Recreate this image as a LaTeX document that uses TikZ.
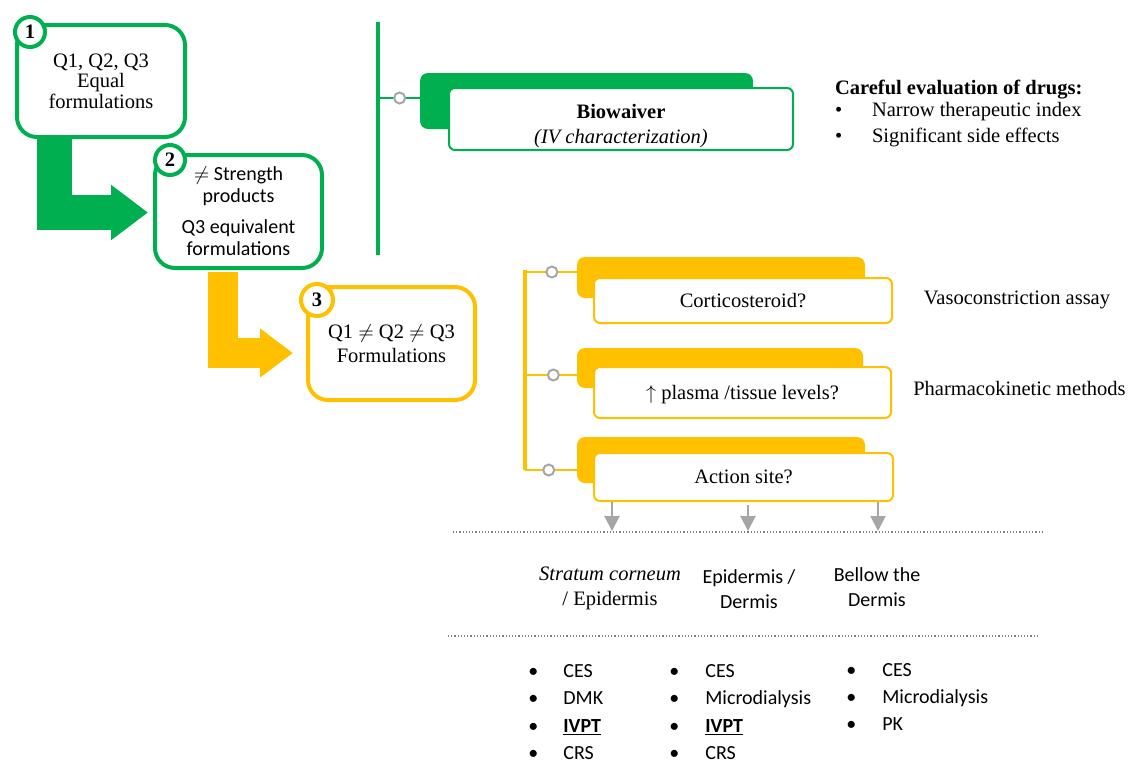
\documentclass[tikz,border=0pt]{standalone}
\usepackage{fontspec}
\setmainfont{Liberation Serif}
\newfontfamily\calibri{Carlito}
\usetikzlibrary{arrows.meta,calc}
\definecolor{stepgreen}{RGB}{0,176,80}
\definecolor{stepyellow}{RGB}{255,192,0}
\definecolor{linkgray}{RGB}{166,166,166}
\tikzset{
  stepbox/.style={draw, line width=2pt, rounded corners=10pt, fill=white, align=center, inner sep=0pt},
  stepnum/.style={circle, draw, line width=2pt, fill=white, minimum size=15pt, inner sep=0pt, font=\fontsize{10.25}{12}\selectfont\bfseries},
  tab/.style={rounded corners=4pt, inner sep=0pt},
  card/.style={draw, line width=1pt, rounded corners=3pt, fill=white, inner sep=0pt, align=center, text depth=0pt},
  knob/.style={circle, draw=linkgray, line width=1pt, fill=white, minimum size=5.5pt, inner sep=0pt},
  link/.style={line width=0.75pt},
  sitearrow/.style={draw=linkgray, line width=1pt, -{Triangle[length=7.5pt,width=7.5pt,fill=linkgray]}},
  dotline/.style={draw=gray, line width=0.6pt, densely dotted},
  sans/.style={font=\calibri\fontsize{10}{11}\selectfont},
  methods/.style={anchor=west, align=left, inner sep=0pt, font=\calibri\fontsize{10}{13.65}\selectfont}
}
\begin{document}
\begin{tikzpicture}[x=0.5pt,y=-0.5pt,font=\fontsize{10.25}{12.5}\selectfont]
\useasboundingbox (0,0) rectangle (1131,762);

% the three steps
\node[stepbox, draw=stepgreen, minimum width=84pt, minimum height=56pt,
  font=\fontsize{10.25}{10.25}\selectfont] (equal) at (101,81) {Q1, Q2, Q3\\Equal\\formulations};
\node[stepbox, draw=stepgreen, minimum width=83.5pt, minimum height=56.5pt,
  font=\calibri\fontsize{10}{11}\selectfont] (strength) at (238.5,211.5)
  {$\neq$ Strength\\products\\[4.5pt]Q3 equivalent\\formulations};
\node[stepbox, draw=stepyellow, minimum width=83.5pt, minimum height=56.5pt,
  font=\fontsize{10.25}{12}\selectfont] (diff) at (391.5,343.5) {Q1 $\neq$ Q2 $\neq$ Q3\\Formulations};

\node[stepnum, draw=stepgreen] (n1) at (30,32) {1};
\node[stepnum, draw=stepgreen] (n2) at (170,160) {2};
\node[stepnum, draw=stepyellow, minimum size=16pt] (n3) at (317,300) {3};

% big arrows
\coordinate (gstem) at (54.5,0);
\coordinate (ystem) at (222.5,0);
\draw[stepgreen, line width=17.5pt, -{Triangle[length=18.5pt,width=26.5pt]}]
  (equal.south -| gstem) |- ($(strength.west)+(-5,1)$);
\draw[stepyellow, line width=15pt, -{Triangle[length=16.5pt,width=23.5pt]}]
  ($(strength.south -| ystem)+(0,2)$) |- ($(diff.west)+(-13,9.5)$);

% biowaiver branch
\draw[stepgreen, line width=2pt] (378,22) coordinate (gtop) -- (378,255) coordinate (gbot);
\node[tab, fill=stepgreen, minimum width=166.5pt, minimum height=28pt] (biotab) at (586.5,101) {};
\node[card, draw=stepgreen, minimum width=172pt, minimum height=31pt] (bio) at (621,119) {};
\node[align=center] (biotext) at ($(bio)+(0,7)$) {\textbf{Biowaiver}\\[0pt]\textit{(IV characterization)}};
\coordinate (bj) at (378,98);
\draw[link, stepgreen] (bj) -- (bj -| biotab.west) node[knob, pos=0.52] {};

\node[anchor=west, align=left, font=\fontsize{10.25}{13}\selectfont] (careful) at (828,113)
  {\textbf{Careful evaluation of drugs:}\\[-2pt]
   \makebox[18.5pt][l]{\textbullet}Narrow therapeutic index\\
   \makebox[18.5pt][l]{\textbullet}Significant side effects};

% Q1 /= Q2 /= Q3 branch
\draw[stepyellow, line width=2.25pt] (525,270) coordinate (ytop) -- (525,470) coordinate (ybot);

\node[tab, fill=stepyellow, minimum width=144pt, minimum height=20.5pt] (t1) at (721,277.5) {};
\node[card, draw=stepyellow, minimum width=149pt, minimum height=22.5pt] (cort) at (743,300.5) {Corticosteroid?};
\node[tab, fill=stepyellow, minimum width=143pt, minimum height=20pt] (t2) at (720,368) {};
\node[card, draw=stepyellow, minimum width=148.5pt, minimum height=25.5pt] (plasma) at (742.5,392.5) {$\uparrow$ plasma /tissue levels?};
\node[tab, fill=stepyellow, minimum width=144pt, minimum height=23pt] (t3) at (721,460) {};
\node[card, draw=stepyellow, minimum width=149.5pt, minimum height=24pt] (act) at (743.5,477) {Action site?};

\coordinate (j1) at (525,272);
\coordinate (j2) at (525,375);
\coordinate (j3) at (525,470);
\draw[link, stepyellow] (j1) -- (j1 -| t1.west) node[knob, pos=0.52] {};
\draw[link, stepyellow] (j2) -- (j2 -| t2.west) node[knob, pos=0.55] {};
\draw[link, stepyellow] (j3) -- (j3 -| t3.west) node[knob, pos=0.46] {};

\node (vaso) at (1017,300) {Vasoconstriction assay};
\node (pkm) at (1019.5,388) {Pharmacokinetic methods};

% action sites
\coordinate (s1) at (612,531);
\coordinate (s2) at (748,531);
\coordinate (s3) at (878,531);
\draw[sitearrow] (act.south -| s1) -- (s1);
\draw[sitearrow] ($(act.south -| s2)+(0,3)$) -- (s2);
\draw[sitearrow] (act.south -| s3) -- (s3);

\draw[dotline] (453,532) -- (1042,532);
\draw[dotline] (448,636) -- (1037,636);

\node[align=center] (sc) at (610,588.5) {\textit{Stratum corneum}\\/ Epidermis};
\node[sans, align=center, font=\calibri\fontsize{10}{12.5}\selectfont] (ed) at (749,589) {Epidermis /\\Dermis};
\node[sans, align=center, font=\calibri\fontsize{10}{12.5}\selectfont] (bd) at (877,587.5) {Bellow the\\Dermis};

\node[methods] (l1) at (528,712)
  {\makebox[17.5pt][l]{\textbullet}CES\\
   \makebox[17.5pt][l]{\textbullet}DMK\\
   \makebox[17.5pt][l]{\textbullet}\textbf{\underline{IVPT}}\\
   \makebox[17.5pt][l]{\textbullet}CRS};
\node[methods] (l2) at (669,712)
  {\makebox[18pt][l]{\textbullet}CES\\
   \makebox[18pt][l]{\textbullet}Microdialysis\\
   \makebox[18pt][l]{\textbullet}\textbf{\underline{IVPT}}\\
   \makebox[18pt][l]{\textbullet}CRS};
\node[methods] (l3) at (846,697)
  {\makebox[18pt][l]{\textbullet}CES\\
   \makebox[18pt][l]{\textbullet}Microdialysis\\
   \makebox[18pt][l]{\textbullet}PK};
\end{tikzpicture}
\end{document}
